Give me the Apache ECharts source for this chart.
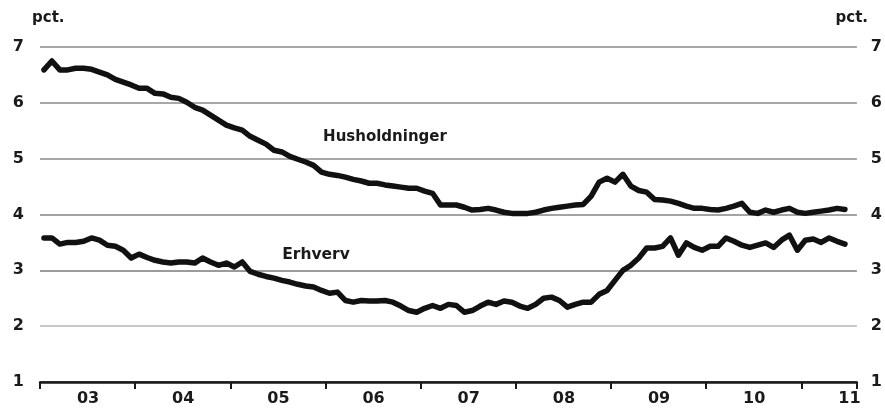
<!DOCTYPE html>
<html><head><meta charset="utf-8">
<script src="https://cdn.jsdelivr.net/npm/echarts@6/dist/echarts.min.js"></script>
<style>html,body{margin:0;padding:0;background:#fff}#c{width:885px;height:409px}</style>
</head><body><div id="c"></div>
<script>
// Monthly observations, Jan 2003 .. Jun 2011 (axis runs to Jul 2011)
const yearLabels = ['03','04','05','06','07','08','09','10','11'];
const husholdninger = [
 6.59,6.75,6.59,6.59,6.62,6.62,6.60,6.55,6.50,6.42,6.37,6.32,
 6.26,6.26,6.17,6.16,6.10,6.08,6.01,5.92,5.87,5.78,5.69,5.60,
 5.55,5.51,5.40,5.33,5.26,5.15,5.12,5.04,4.99,4.94,4.88,4.76,
 4.72,4.70,4.67,4.63,4.60,4.56,4.56,4.53,4.51,4.49,4.47,4.47,
 4.42,4.38,4.17,4.17,4.17,4.13,4.08,4.09,4.11,4.08,4.04,4.02,
 4.02,4.02,4.04,4.08,4.11,4.13,4.15,4.17,4.18,4.33,4.58,4.65,
 4.58,4.72,4.51,4.43,4.40,4.27,4.26,4.24,4.20,4.15,4.11,4.11,
 4.09,4.08,4.11,4.15,4.20,4.04,4.02,4.08,4.04,4.08,4.11,4.04,
 4.02,4.04,4.06,4.08,4.11,4.09
];
const erhverv = [
 3.58,3.58,3.47,3.50,3.50,3.52,3.58,3.54,3.45,3.43,3.36,3.22,
 3.29,3.23,3.18,3.15,3.13,3.15,3.15,3.13,3.22,3.15,3.09,3.13,
 3.06,3.15,2.98,2.93,2.89,2.86,2.82,2.79,2.75,2.72,2.70,2.64,
 2.59,2.61,2.46,2.43,2.46,2.45,2.45,2.46,2.43,2.36,2.28,2.25,
 2.32,2.37,2.32,2.39,2.37,2.25,2.28,2.36,2.43,2.39,2.45,2.43,
 2.36,2.32,2.39,2.50,2.52,2.46,2.34,2.39,2.43,2.43,2.57,2.64,
 2.82,3.00,3.09,3.22,3.40,3.40,3.43,3.58,3.27,3.49,3.41,3.36,
 3.43,3.43,3.58,3.52,3.45,3.41,3.45,3.49,3.41,3.54,3.63,3.36,
 3.54,3.56,3.50,3.58,3.52,3.47
];
const yTicks = {min: 1, max: 7, interval: 1};
const nMonths = 103; // Jan 2003 .. Jul 2011

const months = [];
for (let i = 0; i < nMonths; i++) {
  const y = 2003 + Math.floor(i / 12), m = i % 12 + 1;
  months.push(y + '-' + (m < 10 ? '0' + m : m));
}
const yearLabel = v => yearLabels[parseInt(v.slice(0, 4), 10) - 2003];

const FONT = 'DejaVu Sans';
const INK = '#1a1a1a';
const chart = echarts.init(document.getElementById('c'), null, {renderer: 'canvas'});
chart.setOption({
  animation: false,
  backgroundColor: '#ffffff',
  grid: {left: 40, right: 27, top: 47, bottom: 27, containLabel: false},
  xAxis: {
    type: 'category', data: months, boundaryGap: true,
    axisLine: {show: true, lineStyle: {color: INK, width: 2.5}},
    axisTick: {show: true, inside: false, length: 7, interval: (i) => i % 12 === 0,
               lineStyle: {color: INK, width: 2}},
    axisLabel: {interval: (i) => i % 12 === 6, formatter: yearLabel, margin: 9,
                padding: [0, 7, 0, 0],
                fontFamily: FONT, fontWeight: 'bold', fontSize: 16, color: INK},
    splitLine: {show: false}
  },
  yAxis: [
    {type: 'value', position: 'left', min: yTicks.min, max: yTicks.max, interval: yTicks.interval,
     axisLine: {show: false}, axisTick: {show: false},
     axisLabel: {margin: 16, fontFamily: FONT, fontWeight: 'bold', fontSize: 16, color: INK},
     splitLine: {show: true, lineStyle: {width: 1.5,
       color: ['#333333', '#b4b4b4', '#7a7a7a', '#858585', '#8a8a8a', '#8a8a8a', '#8a8a8a']}}},
    {type: 'value', position: 'right', min: yTicks.min, max: yTicks.max, interval: yTicks.interval,
     axisLine: {show: false}, axisTick: {show: false},
     axisLabel: {margin: 14, fontFamily: FONT, fontWeight: 'bold', fontSize: 16, color: INK},
     splitLine: {show: false}}
  ],
  graphic: [
    {type: 'text', left: 32, top: 11, style: {text: 'pct.', font: 'bold 15px "DejaVu Sans"', fill: INK}},
    {type: 'text', right: 17, top: 11, style: {text: 'pct.', font: 'bold 15px "DejaVu Sans"', fill: INK}},
    {type: 'text', x: 385, y: 137, style: {text: 'Husholdninger', font: 'bold 15px "DejaVu Sans"', fill: INK,
      align: 'center', verticalAlign: 'middle'}},
    {type: 'text', x: 316, y: 255, style: {text: 'Erhverv', font: 'bold 15.5px "DejaVu Sans"', fill: INK,
      align: 'center', verticalAlign: 'middle'}}
  ],
  series: [
    {name: 'Husholdninger', type: 'line', data: husholdninger, showSymbol: false, symbol: 'none',
     lineStyle: {color: '#111', width: 5.5, join: 'round', cap: 'round'}, z: 5},
    {name: 'Erhverv', type: 'line', data: erhverv, showSymbol: false, symbol: 'none',
     lineStyle: {color: '#111', width: 5.5, join: 'round', cap: 'round'}, z: 5}
  ]
});
</script></body></html>
